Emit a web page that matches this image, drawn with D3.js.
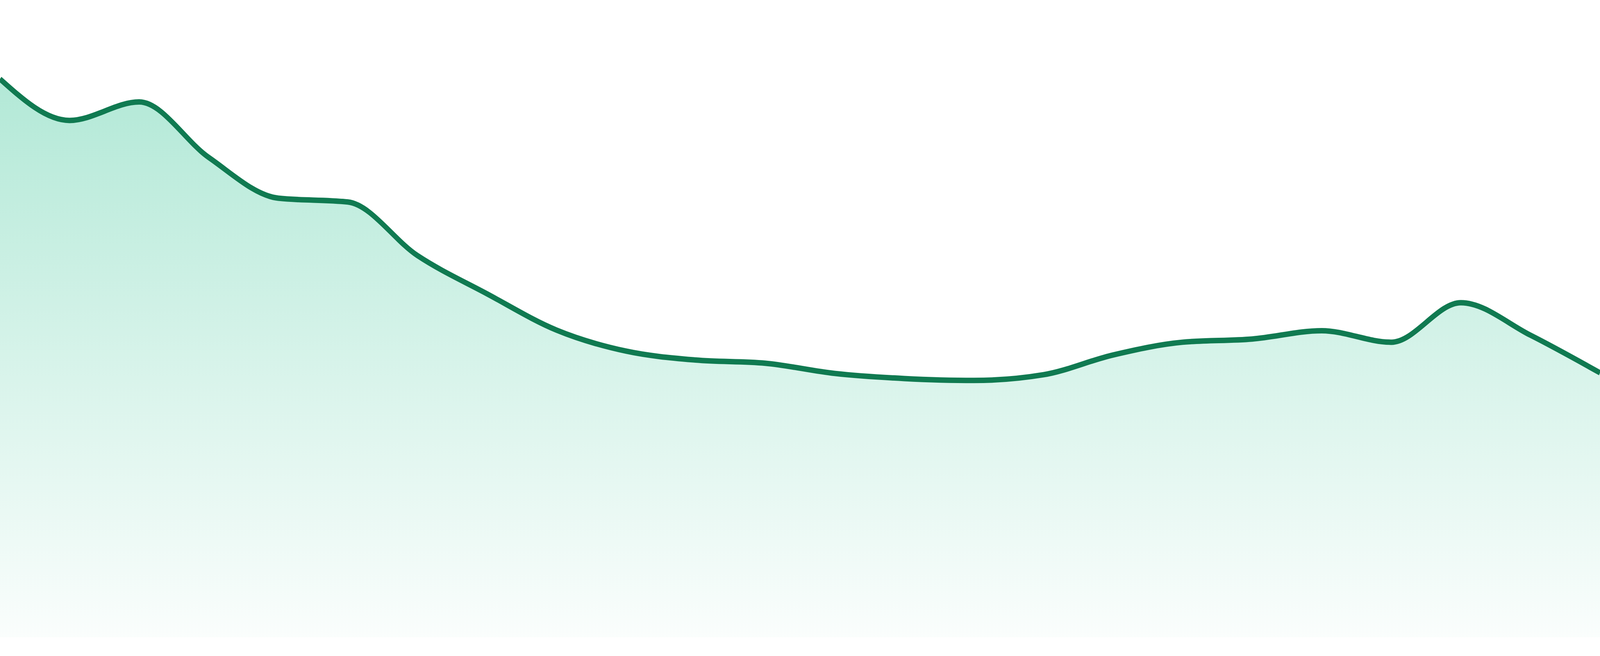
<!DOCTYPE html>
<html>
<head>
<meta charset="utf-8">
<script src="https://cdn.jsdelivr.net/npm/d3@7"></script>
<style>
  html, body { margin: 0; padding: 0; background: #ffffff; overflow: hidden; width: 100%; height: 100%; }
  #svg-area { width: 100vw; height: 100vh; }
  svg { display: block; width: 100%; height: 100%; }
</style>
</head>
<body>
<div id="svg-area"></div>
<script>
// points along the series (evenly spaced)
var steps = d3.range(0, 24)
var values = [87.6, 81.1, 84.0, 75.3, 68.9, 68.3, 59.9, 53.9, 48.2, 44.9, 43.5, 43.0,
              41.4, 40.6, 40.3, 41.2, 44.3, 46.3, 46.8, 48.1, 46.3, 52.5, 47.4, 41.5]

// drawing size (scaled to the window through the viewBox)
var svgWidth = 4800;
var svgHeight = 1680;

var margin = {
  top: 0,
  right: 0,
  bottom: 48,
  left: 0
};

var chartWidth = svgWidth - margin.left - margin.right;
var chartHeight = svgHeight - margin.top - margin.bottom;

var svg = d3.select("#svg-area").append("svg")
  .attr("viewBox", `0 0 ${svgWidth} ${svgHeight}`)
  .attr("preserveAspectRatio", "none");

var chartGroup = svg.append("g")
  .attr("transform", `translate(${margin.left},${margin.top})`);

// scales
var xScale = d3.scaleLinear()
  .domain([0, steps.length - 1])
  .range([0, chartWidth]);

var yScale = d3.scaleLinear()
  .domain([0, 100])
  .range([chartHeight, 0]);

// fill gradient, fading out towards the bottom
var grad = svg.append("defs").append("linearGradient")
  .attr("id", "areaFill")
  .attr("gradientUnits", "userSpaceOnUse")
  .attr("x1", 0).attr("x2", 0)
  .attr("y1", yScale(d3.max(values)))
  .attr("y2", chartHeight);

grad.append("stop").attr("offset", "0%")
  .attr("stop-color", "#10b981").attr("stop-opacity", 0.32);
grad.append("stop").attr("offset", "100%")
  .attr("stop-color", "#10b981").attr("stop-opacity", 0.02);

var area = d3.area()
  .x(function(d, i) { return xScale(steps[i]); })
  .y0(chartHeight)
  .y1(function(d) { return yScale(d); })
  .curve(d3.curveMonotoneX);

var line = d3.line()
  .x(function(d, i) { return xScale(steps[i]); })
  .y(function(d) { return yScale(d); })
  .curve(d3.curveMonotoneX);

chartGroup.append("path")
  .datum(values)
  .attr("fill", "url(#areaFill)")
  .attr("d", area);

chartGroup.append("path")
  .datum(values)
  .attr("fill", "none")
  .attr("stroke", "#107a51")
  .attr("stroke-width", 14)
  .attr("stroke-linejoin", "round")
  .attr("d", line);
</script>
</body>
</html>
